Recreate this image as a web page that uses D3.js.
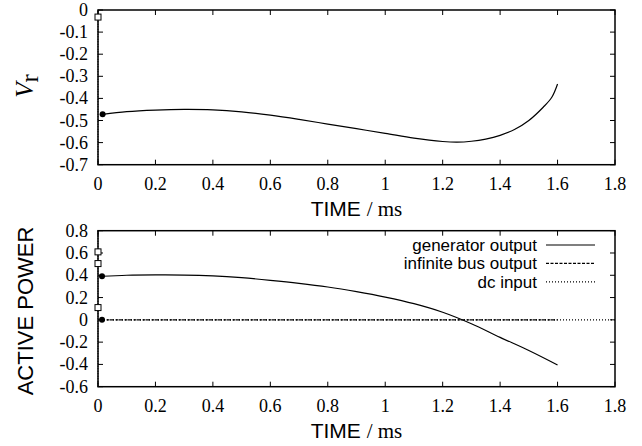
<!DOCTYPE html>
<html>
<head>
<meta charset="utf-8">
<script src="https://cdn.jsdelivr.net/npm/d3@7/dist/d3.min.js"></script>
<style>
  body { margin: 0; background: #fff; }
  svg { display: block; }
  .tick-label { font-family: "Liberation Serif", "Times New Roman", serif; font-size: 18px; }
  .sans { font-family: "Liberation Sans", Arial, sans-serif; }
  .serif { font-family: "Liberation Serif", "Times New Roman", serif; }
</style>
</head>
<body>
<div id="chart"></div>
<script>
// ---- data ----
var xTicks = [0, 0.2, 0.4, 0.6, 0.8, 1, 1.2, 1.4, 1.6, 1.8];
var vrTicks = [0, -0.1, -0.2, -0.3, -0.4, -0.5, -0.6, -0.7];
var powerTicks = [0.8, 0.6, 0.4, 0.2, 0, -0.2, -0.4, -0.6];

var vrTime = [0.016, 0.1, 0.2, 0.3, 0.4, 0.5, 0.6, 0.7, 0.8, 0.9, 1.0, 1.1, 1.2, 1.25, 1.3, 1.35, 1.4, 1.45, 1.5, 1.55, 1.58, 1.6];
var vrValues = [-0.472, -0.460, -0.453, -0.450, -0.452, -0.461, -0.476, -0.495, -0.516, -0.537, -0.558, -0.580, -0.595, -0.598, -0.594, -0.584, -0.567, -0.541, -0.500, -0.440, -0.395, -0.335];
var vrStartSquares = [-0.032];

var genTime = [0.014, 0.1, 0.2, 0.3, 0.4, 0.5, 0.6, 0.7, 0.8, 0.9, 1.0, 1.1, 1.2, 1.3, 1.4, 1.5, 1.6];
var genValues = [0.391, 0.400, 0.403, 0.402, 0.394, 0.378, 0.355, 0.328, 0.295, 0.253, 0.204, 0.145, 0.068, -0.035, -0.157, -0.275, -0.405];
var busTime = [0.014, 1.6];
var busValues = [0, 0];
var dcTime = [0, 1.8];
var dcValues = [0, 0];
var powerStartSquares = [0.61, 0.505, 0.11];

var legendNames = ["generator output", "infinite bus output", "dc input"];
var legendDash = [null, "3,1.5", "1,2"];

// ---- layout ----
var W = 642, H = 446;
var left = 98, right = 615;

var svg = d3.select("#chart").append("svg")
    .attr("width", W)
    .attr("height", H);

var x = d3.scaleLinear().domain([0, 1.8]).range([left, right]);

// gnuplot style numbers: plain hyphen minus
function fmt(v) {
    return d3.format("~g")(v).replace("\u2212", "-");
}

function panel(pTop, pBottom, yDomain, yTicks) {
    var y = d3.scaleLinear().domain(yDomain).range([pBottom, pTop]);
    var g = svg.append("g");

    // dotted trace along t = 0 (start-up jump)
    g.append("line")
        .attr("x1", x(0)).attr("x2", x(0))
        .attr("y1", y(yDomain[0])).attr("y2", y(yDomain[1]))
        .attr("stroke", "#000").attr("stroke-width", 1.2)
        .attr("stroke-dasharray", "1,1.5");

    // ticks on all four sides, pointing inward
    var tl = 5;
    xTicks.forEach(function (t) {
        g.append("line").attr("x1", x(t)).attr("x2", x(t))
            .attr("y1", pBottom).attr("y2", pBottom - tl)
            .attr("stroke", "#000").attr("stroke-width", 1);
        g.append("line").attr("x1", x(t)).attr("x2", x(t))
            .attr("y1", pTop).attr("y2", pTop + tl)
            .attr("stroke", "#000").attr("stroke-width", 1);
        g.append("text").attr("class", "tick-label")
            .attr("x", x(t)).attr("y", pBottom + 25)
            .attr("text-anchor", "middle")
            .text(fmt(t));
    });
    yTicks.forEach(function (v) {
        g.append("line").attr("x1", left).attr("x2", left + tl)
            .attr("y1", y(v)).attr("y2", y(v))
            .attr("stroke", "#000").attr("stroke-width", 1);
        g.append("line").attr("x1", right).attr("x2", right - tl)
            .attr("y1", y(v)).attr("y2", y(v))
            .attr("stroke", "#000").attr("stroke-width", 1);
        g.append("text").attr("class", "tick-label")
            .attr("x", left - 10).attr("y", y(v) + 6)
            .attr("text-anchor", "end")
            .text(fmt(v));
    });

    // frame
    g.append("rect")
        .attr("x", left).attr("y", pTop)
        .attr("width", right - left).attr("height", pBottom - pTop)
        .attr("fill", "none").attr("stroke", "#000").attr("stroke-width", 1.5);

    // x axis title
    var tt = g.append("text")
        .attr("x", (left + right) / 2).attr("y", pBottom + 51)
        .attr("text-anchor", "middle").attr("font-size", 21);
    tt.append("tspan").attr("class", "sans").text("TIME ");
    tt.append("tspan").attr("class", "serif").text("/ ms");

    return { g: g, y: y };
}

function drawLine(p, ts, vs, dash) {
    var pts = ts.map(function (t, i) { return [t, vs[i]]; });
    var line = d3.line()
        .x(function (d) { return x(d[0]); })
        .y(function (d) { return p.y(d[1]); })
        .curve(d3.curveCatmullRom.alpha(0.5));
    p.g.append("path")
        .attr("d", line(pts))
        .attr("fill", "none").attr("stroke", "#000").attr("stroke-width", 1.2)
        .attr("stroke-dasharray", dash);
}

function drawDot(p, t, v) {
    p.g.append("circle").attr("cx", x(t)).attr("cy", p.y(v)).attr("r", 3).attr("fill", "#000");
}

function drawSquares(p, vals) {
    vals.forEach(function (v) {
        p.g.append("rect")
            .attr("x", x(0) - 3).attr("y", p.y(v) - 3)
            .attr("width", 6).attr("height", 6)
            .attr("fill", "#fff").attr("stroke", "#000").attr("stroke-width", 1);
    });
}

// ---- top panel: V_r ----
var vrPanel = panel(10, 164.7, [-0.7, 0], vrTicks);
drawLine(vrPanel, vrTime, vrValues, null);
drawDot(vrPanel, vrTime[0], vrValues[0]);
drawSquares(vrPanel, vrStartSquares);

var vrLabel = svg.append("text")
    .attr("transform", "translate(33,86) rotate(-90)")
    .attr("text-anchor", "middle")
    .attr("class", "serif").attr("font-size", 25);
vrLabel.append("tspan").attr("font-style", "italic").text("V");
vrLabel.append("tspan").attr("dy", 5).text("r");

// ---- bottom panel: active power ----
var pwPanel = panel(230.7, 386.7, [-0.6, 0.8], powerTicks);
drawLine(pwPanel, dcTime, dcValues, "1,2");
drawLine(pwPanel, busTime, busValues, "3,1.5");
drawLine(pwPanel, genTime, genValues, null);
drawDot(pwPanel, genTime[0], genValues[0]);
drawDot(pwPanel, busTime[0], busValues[0]);
drawSquares(pwPanel, powerStartSquares);

svg.append("text")
    .attr("transform", "translate(33,311) rotate(-90)")
    .attr("text-anchor", "middle")
    .attr("class", "sans").attr("font-size", 22)
    .text("ACTIVE POWER");

// legend
legendNames.forEach(function (name, i) {
    var cy = 245 + i * 18.4;
    svg.append("text").attr("class", "sans").attr("font-size", 17)
        .attr("x", 537).attr("y", cy + 6)
        .attr("text-anchor", "end")
        .text(name);
    svg.append("line")
        .attr("x1", 546).attr("x2", 595)
        .attr("y1", cy).attr("y2", cy)
        .attr("stroke", "#000").attr("stroke-width", 1.2)
        .attr("stroke-dasharray", legendDash[i]);
});
</script>
</body>
</html>
